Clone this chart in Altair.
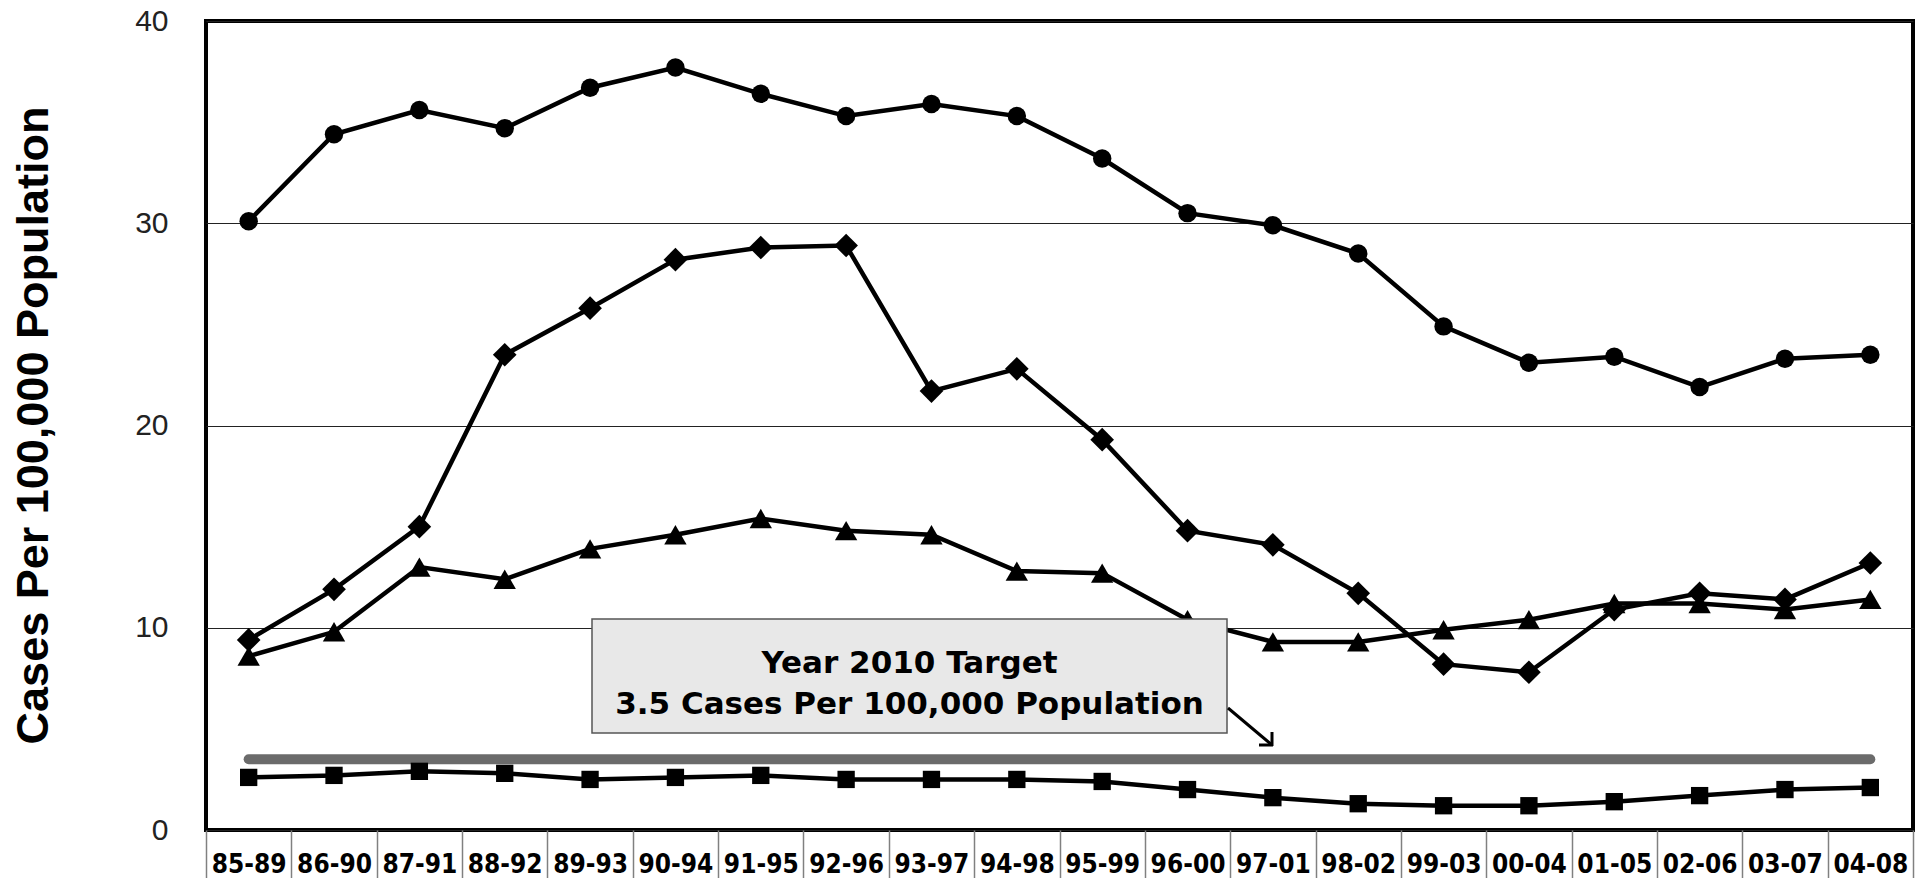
import altair as alt
import pandas as pd

periods = ["85-89", "86-90", "87-91", "88-92", "89-93", "90-94", "91-95", "92-96",
           "93-97", "94-98", "95-99", "96-00", "97-01", "98-02", "99-03", "00-04",
           "01-05", "02-06", "03-07", "04-08"]

circle_vals = [30.1, 34.4, 35.6, 34.7, 36.7, 37.7, 36.4, 35.3, 35.9, 35.3,
               33.2, 30.5, 29.9, 28.5, 24.9, 23.1, 23.4, 21.9, 23.3, 23.5]
diamond_vals = [9.4, 11.9, 15.0, 23.5, 25.8, 28.2, 28.8, 28.9, 21.7, 22.8,
                19.3, 14.8, 14.1, 11.7, 8.2, 7.8, 10.9, 11.7, 11.4, 13.2]
triangle_vals = [8.6, 9.8, 13.0, 12.4, 13.9, 14.6, 15.4, 14.8, 14.6, 12.8,
                 12.7, 10.4, 9.3, 9.3, 9.9, 10.4, 11.2, 11.2, 10.9, 11.4]
square_vals = [2.6, 2.7, 2.9, 2.8, 2.5, 2.6, 2.7, 2.5, 2.5, 2.5,
               2.4, 2.0, 1.6, 1.3, 1.2, 1.2, 1.4, 1.7, 2.0, 2.1]

series_names = ["Series 1", "Series 2", "Series 3", "Series 4"]
series_shapes = ["circle", "diamond", "triangle-up", "square"]
series_sizes = [340, 560, 500, 300]

target_value = 3.5
y_ticks = [0, 10, 20, 30, 40]
box_lines = ["Year 2010 Target", "3.5 Cases Per 100,000 Population"]
box_line_y = [7.76, 5.74]
box_y = [10.43, 4.80]

all_vals = [circle_vals, diamond_vals, triangle_vals, square_vals]
rows = []
for name, vals in zip(series_names, all_vals):
    for p, v in zip(periods, vals):
        rows.append({"period": p, "value": v, "series": name})
df = pd.DataFrame(rows)

target_df = pd.DataFrame({"period": [periods[0], periods[-1]], "value": [target_value, target_value]})
text_df = pd.DataFrame({"label": box_lines, "value": box_line_y})
box_df = pd.DataFrame({"value": [box_y[0]], "value2": [box_y[1]]})

x_enc = alt.X(
    "period:N", sort=periods, bandPosition=0.5,
    scale=alt.Scale(type="band", domain=periods, paddingInner=0, paddingOuter=0),
    axis=alt.Axis(title=None, tickBand="extent", tickSize=48, tickColor="#808080",
                  tickWidth=1.5, domain=False, grid=False, labelAngle=0,
                  labelFont="DejaVu Sans Condensed", labelFontWeight="bold",
                  labelFontSize=26, labelColor="black", labelBaseline="alphabetic",
                  labelPadding=-6, labelOverlap=False),
)
y_axis = alt.Axis(values=y_ticks, title="Cases Per 100,000 Population",
                  titleFont="Liberation Sans", titleFontSize=45, titleFontWeight="bold",
                  titleColor="black", titleAngle=270, titleX=-159, titleY=404,
                  titleAlign="center", titleBaseline="alphabetic",
                  labelFont="Liberation Sans", labelFontSize=30, labelColor="#222",
                  labelPadding=38, ticks=False, domain=False, grid=True,
                  gridColor="#222", gridWidth=1.2)
y_scale = alt.Scale(domain=[0, 40], nice=False)
y_enc = alt.Y("value:Q", scale=y_scale, axis=y_axis)

target = alt.Chart(target_df).mark_line(color="#6b6b6b", strokeWidth=10, strokeCap="round").encode(
    x=x_enc, y=y_enc)

lines = alt.Chart(df).mark_line(color="black", strokeWidth=4.5).encode(
    x=x_enc, y=y_enc, detail="series:N")

point_layers = []
for name, shape, size in zip(series_names, series_shapes, series_sizes):
    point_layers.append(
        alt.Chart(df[df["series"] == name]).mark_point(
            filled=True, color="black", opacity=1, shape=shape, size=size
        ).encode(x=x_enc, y=y_enc)
    )

box = alt.Chart(box_df).mark_rect(fill="#e8e8e8", stroke="#555555", strokeWidth=1.5).encode(
    x=alt.value(386), x2=alt.value(1021),
    y=y_enc, y2="value2:Q",
)

texts = alt.Chart(text_df).mark_text(font="DejaVu Sans", fontWeight="bold", fontSize=31,
                                     color="black", align="center", baseline="alphabetic").encode(
    x=alt.value(703.5),
    y=y_enc,
    text="label:N",
)

one = pd.DataFrame({"a": [0]})
shaft = alt.Chart(one).mark_rule(color="black", strokeWidth=3).encode(
    x=alt.value(1022), x2=alt.value(1066), y=alt.value(687), y2=alt.value(724))
leg1 = alt.Chart(one).mark_rule(color="black", strokeWidth=3).encode(
    x=alt.value(1053), x2=alt.value(1067), y=alt.value(724), y2=alt.value(724))
leg2 = alt.Chart(one).mark_rule(color="black", strokeWidth=3).encode(
    x=alt.value(1066), x2=alt.value(1066), y=alt.value(711), y2=alt.value(725))

chart = alt.layer(target, lines, *point_layers, box, texts, shaft, leg1, leg2).properties(
    width=1707, height=809,
    autosize=alt.AutoSizeParams(type="none"),
    padding={"left": 198, "top": 13, "right": 6, "bottom": 48},
    background="white",
).configure_view(stroke="black", strokeWidth=4)

chart.save("out.html", embed_options={"renderer": "svg", "actions": False})
